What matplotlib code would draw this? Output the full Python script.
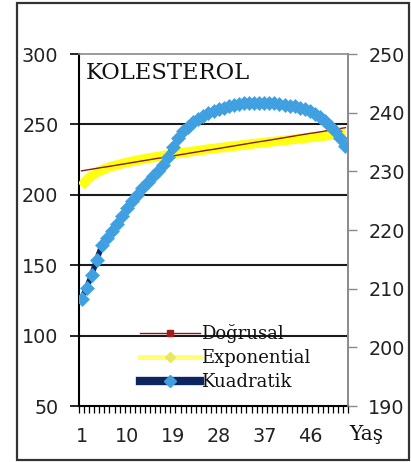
import matplotlib
matplotlib.use("Agg")
import matplotlib.pyplot as plt
from matplotlib.lines import Line2D
from matplotlib.patches import Rectangle
import numpy as np

# ---- data ----
ages = list(range(1, 54))
age_tick_labels = ["1", "10", "19", "28", "37", "46"]
age_tick_values = [1, 10, 19, 28, 37, 46]

dogrusal = [217.0, 217.6, 218.2, 218.8, 219.4, 219.9, 220.5, 221.1, 221.7, 222.3,
            222.9, 223.5, 224.1, 224.7, 225.3, 225.9, 226.4, 227.0, 227.6, 228.2,
            228.8, 229.4, 230.0, 230.6, 231.2, 231.8, 232.3, 232.9, 233.5, 234.1,
            234.7, 235.3, 235.9, 236.5, 237.1, 237.7, 238.2, 238.8, 239.4, 240.0,
            240.6, 241.2, 241.8, 242.4, 243.0, 243.6, 244.1, 244.7, 245.3, 245.9,
            246.5, 247.1, 247.7]

exponential = [206.0, 210.5, 213.5, 215.8, 217.6, 219.0, 220.2, 221.2, 222.1, 223.0,
               223.8, 224.5, 225.2, 225.9, 226.5, 227.1, 227.7, 228.3, 228.9, 229.4,
               229.9, 230.4, 230.9, 231.4, 231.9, 232.4, 232.8, 233.3, 233.7, 234.2,
               234.6, 235.0, 235.5, 235.9, 236.3, 236.7, 237.1, 237.5, 237.9, 238.3,
               238.7, 239.1, 239.5, 239.9, 240.3, 240.7, 241.1, 241.5, 241.9, 242.3,
               242.7, 243.1, 243.5]

kuadratik = [126.0, 134.0, 143.0, 154.0, 164.0, 169.0, 174.0, 179.5, 185.0, 190.5,
             195.5, 200.0, 204.5, 209.0, 213.0, 217.0, 221.5, 227.0, 234.0, 240.0,
             245.0, 248.5, 251.5, 254.0, 256.0, 258.0, 259.5, 261.0, 262.0, 263.0,
             264.0, 264.5, 265.0, 265.3, 265.5, 265.5, 265.5, 265.3, 265.0, 264.5,
             264.0, 263.4, 262.8, 262.0, 261.0, 259.6, 257.6, 255.0, 252.2, 249.0,
             245.0, 240.0, 234.5]

series_names = ["Doğrusal", "Exponential", "Kuadratik"]
left_ticks = [50, 100, 150, 200, 250, 300]
right_ticks = [190, 200, 210, 220, 230, 240, 250]

# ---- figure ----
W, H = 411, 462
fig = plt.figure(figsize=(W / 100, H / 100), dpi=100)
fig.patch.set_facecolor("white")

def fx(px):
    return px / W

def fy(py):
    return 1 - py / H

ax = fig.add_axes([fx(79), fy(406), fx(348) - fx(79), fy(54) - fy(406)])
ax.set_facecolor("white")

yellow = "#ffff14"
red = "#8b1a1a"
navy = "#0d2560"
lblue = "#3f9fe0"

ax.plot(ages, exponential, color=yellow, lw=7, solid_capstyle="butt", zorder=3)
ax.plot(ages, dogrusal, color=red, lw=1.0, zorder=4)
ax.plot(ages, kuadratik, color=navy, lw=4, zorder=5)
ax.plot(ages, kuadratik, ls="none", marker="D", ms=7.5, mfc=lblue,
        mec="#4aa6e4", mew=0.5, zorder=6)

ax.set_xlim(0.5, 53.5)
ax.set_ylim(50, 300)
ax.set_yticks(left_ticks)
ax.set_xticks(age_tick_values)
ax.set_xticklabels(age_tick_labels)
ax.set_xticks(np.arange(0.5, 54.0, 1.0), minor=True)

for lab in ax.get_yticklabels() + ax.get_xticklabels():
    lab.set_fontfamily("DejaVu Sans")
    lab.set_fontsize(13.8)
    lab.set_color("#222222")

ax.tick_params(axis="y", which="major", direction="out", length=6.5, width=1.2,
               color="black", pad=8.3)
ax.tick_params(axis="x", which="major", length=0, pad=15)
ax.tick_params(axis="x", which="minor", direction="out", length=5, width=0.9,
               color="black")

ax.grid(axis="y", color="#1a1a1a", lw=1.5, zorder=1)
ax.set_axisbelow(True)
gl = ax.get_ygridlines()
gl[0].set_visible(False)
gl[-1].set_visible(False)

ax.spines["left"].set_color("black")
ax.spines["left"].set_linewidth(1.5)
ax.spines["bottom"].set_color("black")
ax.spines["bottom"].set_linewidth(1.5)
ax.spines["top"].set_color("#8a8a8a")
ax.spines["top"].set_linewidth(1.2)
ax.spines["right"].set_color("#8a8a8a")
ax.spines["right"].set_linewidth(1.2)

ax2 = ax.twinx()
ax2.set_ylim(190, 250)
ax2.set_yticks(right_ticks)
for lab in ax2.get_yticklabels():
    lab.set_fontfamily("DejaVu Sans")
    lab.set_fontsize(13.8)
    lab.set_color("#222222")
ax2.tick_params(axis="y", direction="out", length=6.5, width=1.0,
                color="#8a8a8a", pad=8)
for s in ["left", "top", "bottom"]:
    ax2.spines[s].set_visible(False)
ax2.spines["right"].set_color("#8a8a8a")
ax2.spines["right"].set_linewidth(1.2)

# title inside plot
ax.text(fx(86), fy(73), "KOLESTEROL", transform=fig.transFigure,
        family="DejaVu Serif", size=16.3, va="center", ha="left", color="#111111")

# axis label "Yaş"
fig.text(fx(366), fy(434), "Yaş", family="DejaVu Serif", size=14.5,
         va="center", ha="center", color="#111111")

# legend
handles = [
    Line2D([], [], color=red, lw=1.0, marker="s", ms=5, mfc="#a01c1c", mec="#a01c1c"),
    Line2D([], [], color="#ffff70", lw=3.5, marker="D", ms=5, mfc="#e8e860", mec="#e8e860"),
    Line2D([], [], color=navy, lw=6, marker="D", ms=6, mfc=lblue, mec=lblue),
]
leg = ax.legend(handles, series_names, loc="upper left",
                bbox_to_anchor=(fx(140), fy(324)), bbox_transform=fig.transFigure,
                frameon=False, borderpad=0, borderaxespad=0, handlelength=3.3,
                handletextpad=0.1, labelspacing=0.34,
                prop=dict(family="DejaVu Serif", size=13))
for t in leg.get_texts():
    t.set_color("#111111")
leg.set_zorder(10)

# outer frame
fig.patches.append(Rectangle((fx(17), fy(460)), fx(409) - fx(17), fy(3) - fy(460),
                             transform=fig.transFigure, fill=False,
                             edgecolor="#333333", lw=1.6))

fig.savefig("out.png", dpi=100, facecolor="white")
